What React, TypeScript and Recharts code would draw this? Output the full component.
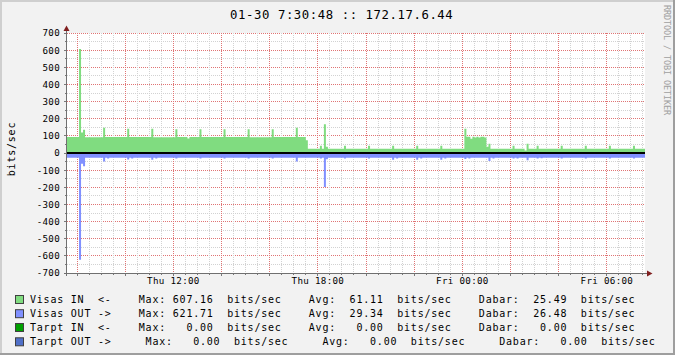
import React from "react";
import { ComposedChart, Area, XAxis, YAxis, CartesianGrid, ReferenceLine } from "recharts";

// time axis in minutes since Thu 00:00 (Fri = +1440)
const START = 455; // Thu 07:35
const END = 1895; // Fri 07:35
const Y_MIN = -700;
const Y_MAX = 700;

// [minute, bits/sec] step change points
const visasIn: [number, number][] = [
  [455, 93], [485, 607], [490, 120], [495, 135], [500, 92], [545, 148], [550, 94],
  [605, 142], [610, 93], [665, 142], [670, 92], [725, 138], [730, 93], [755, 84], [760, 94],
  [785, 138], [790, 93], [845, 138], [850, 94], [905, 138], [910, 92], [965, 138], [970, 93],
  [1025, 148], [1030, 94], [1050, 74], [1055, 25], [1085, 43], [1090, 25], [1095, 167],
  [1100, 37], [1105, 25], [1145, 43], [1150, 25], [1205, 43], [1210, 25], [1265, 43],
  [1270, 25], [1325, 43], [1330, 25], [1385, 43], [1390, 25], [1445, 142], [1450, 95],
  [1460, 83], [1465, 95], [1470, 90], [1475, 95], [1480, 90], [1485, 95], [1495, 90],
  [1500, 37], [1505, 54], [1510, 25], [1565, 43], [1570, 25], [1595, 15], [1600, 54],
  [1605, 25], [1625, 43], [1630, 25], [1685, 43], [1690, 25], [1745, 43], [1750, 25],
  [1805, 43], [1810, 25], [1865, 43], [1870, 25],
];
const visasOut: [number, number][] = [
  [455, -27], [485, -622], [490, -62], [495, -78], [500, -27], [545, -50], [550, -27],
  [555, -32], [560, -27], [605, -38], [610, -27], [615, -32], [620, -27], [665, -40],
  [670, -27], [675, -32], [680, -27], [725, -32], [730, -27], [785, -32], [790, -27],
  [845, -32], [850, -27], [905, -32], [910, -27], [965, -32], [970, -27], [1025, -50],
  [1030, -27], [1085, -32], [1090, -27], [1095, -198], [1100, -37], [1105, -27],
  [1145, -32], [1150, -27], [1205, -32], [1210, -27], [1265, -40], [1270, -27],
  [1275, -32], [1280, -27], [1325, -40], [1330, -27], [1335, -32], [1340, -27],
  [1385, -40], [1390, -27], [1395, -32], [1400, -27], [1445, -35], [1450, -27],
  [1455, -32], [1460, -27], [1505, -47], [1510, -27], [1515, -32], [1520, -27],
  [1565, -32], [1570, -27], [1575, -32], [1580, -27], [1600, -43], [1605, -27],
  [1625, -32], [1630, -27], [1635, -30], [1640, -27], [1685, -32], [1690, -27],
  [1745, -32], [1750, -27], [1805, -32], [1810, -27], [1865, -32], [1870, -27],
];

const yMajor = [-700, -600, -500, -400, -300, -200, -100, 0, 100, 200, 300, 400, 500, 600, 700];
const yMinor = [-650, -550, -450, -350, -250, -150, -50, 50, 150, 250, 350, 450, 550, 650];
const xMajor = [480, 600, 720, 840, 960, 1080, 1200, 1320, 1440, 1560, 1680, 1800];
const xMinor = [510, 540, 570, 630, 660, 690, 750, 780, 810, 870, 900, 930, 990, 1020, 1050,
  1110, 1140, 1170, 1230, 1260, 1290, 1350, 1380, 1410, 1470, 1500, 1530, 1590, 1620, 1650,
  1710, 1740, 1770, 1830, 1860, 1890];
const xLabelTicks = [720, 1080, 1440, 1800];
const xLabels = ["Thu 12:00", "Thu 18:00", "Fri 00:00", "Fri 06:00"];

const legendColors = ["#80dc80", "#8090ff", "#00a000", "#5070c8"];
const legendLines = [
  "Visas IN  <-    Max: 607.16  bits/sec    Avg:  61.11  bits/sec    Dabar:  25.49  bits/sec",
  "Visas OUT ->    Max: 621.71  bits/sec    Avg:  29.34  bits/sec    Dabar:  26.48  bits/sec",
  "Tarpt IN  <-    Max:   0.00  bits/sec    Avg:   0.00  bits/sec    Dabar:   0.00  bits/sec",
  "Tarpt OUT ->     Max:   0.00  bits/sec     Avg:   0.00  bits/sec     Dabar:   0.00  bits/sec",
];
const title = "01-30 7:30:48 :: 172.17.6.44";

const MONO = "'DejaVu Sans Mono', monospace";
const MAJOR_COLOR = "#e07474";
const MINOR_COLOR = "#d2d2d2";
const PLOT = { left: 67, top: 33, width: 578, height: 240 };

function valueAt(series: [number, number][], t: number) {
  let v = series[0][1];
  for (const [ts, val] of series) {
    if (ts <= t) v = val;
    else break;
  }
  return v;
}

const times = Array.from(new Set([...visasIn.map((p) => p[0]), ...visasOut.map((p) => p[0]), END])).sort(
  (a, b) => a - b
);
const table = times.map((t) => ({ t, visasIn: valueAt(visasIn, t), visasOut: valueAt(visasOut, t) }));

const xAllTicks = [...xMajor, ...xMinor].sort((a, b) => a - b);
const yAllTicks = [...yMajor, ...yMinor].sort((a, b) => a - b);

function near(list: number[], v: number, tol: number) {
  return list.some((m) => Math.abs(m - v) < tol);
}
const snap = (c: number) => Math.floor(c) + 0.5;

function hGrid(p: any) {
  const v = Y_MAX - ((p.y1 - PLOT.top) / PLOT.height) * (Y_MAX - Y_MIN);
  const major = near(yMajor, v, 1);
  const minor = near(yMinor, v, 1);
  if (!major && !minor) return <g key={p.key} />;
  const y = snap(p.y1);
  return (
    <line key={p.key} x1={Math.round(p.x1)} x2={Math.round(p.x2)} y1={y} y2={y}
      stroke={major ? MAJOR_COLOR : MINOR_COLOR} strokeWidth={1} strokeDasharray="1 1" />
  );
}

function vGrid(p: any) {
  const t = START + ((p.x1 - PLOT.left) / PLOT.width) * (END - START);
  const major = near(xMajor, t, 1);
  const minor = near(xMinor, t, 1);
  if (!major && !minor) return <g key={p.key} />;
  const x = snap(p.x1);
  return (
    <line key={p.key} x1={x} x2={x} y1={Math.round(p.y1)} y2={Math.round(p.y2)}
      stroke={major ? MAJOR_COLOR : MINOR_COLOR} strokeWidth={1} strokeDasharray="1 1" />
  );
}

function YTick(props: any) {
  const { x, y, payload } = props;
  const v = payload.value;
  const major = v % 100 === 0;
  const yy = snap(y);
  return (
    <g>
      <line x1={x - (major ? 3 : 2)} x2={x} y1={yy} y2={yy} stroke="#7a7a7a" />
      {major && (
        <text x={x - 7} y={y + 3.4} textAnchor="end" fill="#000" style={{ fontFamily: MONO, fontSize: 9.2, letterSpacing: 0.31 }}>
          {v}
        </text>
      )}
    </g>
  );
}

function XTick(props: any) {
  const { x, y, payload } = props;
  const v = payload.value;
  const major = xMajor.includes(v);
  const li = xLabelTicks.indexOf(v);
  const xx = snap(x);
  return (
    <g>
      <line x1={xx} x2={xx} y1={y} y2={y + (major ? 3 : 2)} stroke="#7a7a7a" />
      {li >= 0 && (
        <text x={x} y={y + 11} textAnchor="middle" fill="#000" style={{ fontFamily: MONO, fontSize: 9.2, letterSpacing: 0.31 }}>
          {xLabels[li]}
        </text>
      )}
    </g>
  );
}

export default function App() {
  const legendBase = [302.5, 316.7, 330.5, 344.8];
  return (
    <div style={{ position: "relative", width: 675, height: 355, background: "#f2f2f2", overflow: "hidden" }}>
      <style>{`body{margin:0}`}</style>
      <div
        style={{ position: "absolute", left: PLOT.left, top: PLOT.top, width: PLOT.width, height: PLOT.height, background: "#ffffff" }}
      />
      <div style={{ position: "absolute", left: 0, top: 0 }}>
        <ComposedChart
          width={675}
          height={355}
          data={table}
          margin={{ top: PLOT.top, right: 675 - PLOT.left - PLOT.width, bottom: 0, left: 0 }}
        >
          <CartesianGrid horizontal={hGrid} vertical={vGrid} />
          <XAxis
            dataKey="t"
            type="number"
            domain={[START, END]}
            allowDataOverflow
            ticks={xAllTicks}
            interval={0}
            height={355 - PLOT.top - PLOT.height}
            tickSize={0}
            tickMargin={0}
            tickLine={false}
            axisLine={false}
            tick={<XTick />}
          />
          <YAxis
            type="number"
            domain={[Y_MIN, Y_MAX]}
            allowDataOverflow
            ticks={yAllTicks}
            interval={0}
            width={PLOT.left}
            tickSize={0}
            tickMargin={0}
            tickLine={false}
            axisLine={false}
            tick={<YTick />}
          />
          <Area type="stepAfter" dataKey="visasIn" fill="#80dc80" fillOpacity={1} stroke="none" baseValue={0} dot={false} activeDot={false} isAnimationActive={false} />
          <Area type="stepAfter" dataKey="visasOut" fill="#8090ff" fillOpacity={1} stroke="none" baseValue={0} dot={false} activeDot={false} isAnimationActive={false} />
          <ReferenceLine y={0} stroke="#000000" strokeWidth={2} />
        </ComposedChart>
      </div>
      <svg width={675} height={355} style={{ position: "absolute", left: 0, top: 0, pointerEvents: "none" }}>
        {/* frame */}
        <rect x={0} y={0} width={675} height={2} fill="#cfcfcf" />
        <rect x={0} y={0} width={2} height={355} fill="#cfcfcf" />
        <rect x={0} y={353} width={675} height={2} fill="#9e9e9e" />
        <rect x={673} y={0} width={2} height={355} fill="#9e9e9e" />
        {/* axes */}
        <line x1={66.5} x2={66.5} y1={27} y2={276} stroke="#707070" />
        <line x1={64} x2={647} y1={273.5} y2={273.5} stroke="#707070" />
        <polygon points="66.5,25.5 63.5,31 69.5,31" fill="#801f1f" />
        <polygon points="652.5,273.5 647,270.5 647,276.5" fill="#801f1f" />
        {/* title */}
        <text x={341.7} y={18.5} textAnchor="middle" fill="#000" style={{ fontFamily: MONO, fontSize: 12.3, letterSpacing: 0.57 }}>
          {title}
        </text>
        {/* y label */}
        <text x={15} y={149} textAnchor="middle" transform="rotate(-90 15 149)" fill="#000" style={{ fontFamily: MONO, fontSize: 10, letterSpacing: 0.78 }}>
          bits/sec
        </text>
        {/* watermark */}
        <text x={663.5} y={5} transform="rotate(90 663.5 5)" fill="#a0a0a0" style={{ fontFamily: MONO, fontSize: 8.5, letterSpacing: -0.12 }}>
          RRDTOOL / TOBI OETIKER
        </text>
        {/* legend */}
        {legendLines.map((line, i) => (
          <g key={i}>
            <rect x={15.5} y={legendBase[i] - 7} width={8} height={8} fill={legendColors[i]} stroke="#404040" />
            <text x={30} y={legendBase[i]} xmlSpace="preserve" fill="#000" style={{ fontFamily: MONO, fontSize: 10, letterSpacing: 0.78, whiteSpace: "pre" }}>
              {line}
            </text>
          </g>
        ))}
      </svg>
    </div>
  );
}
